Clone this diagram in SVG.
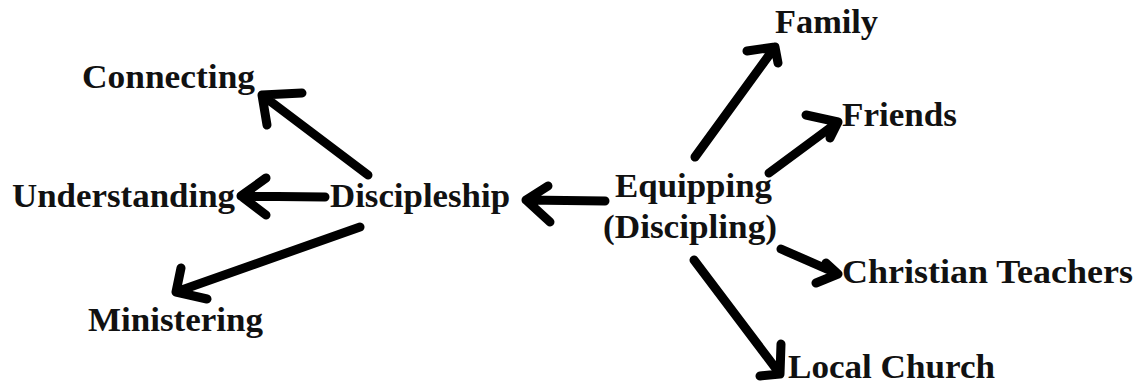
<svg xmlns="http://www.w3.org/2000/svg" width="1144" height="387" viewBox="0 0 1144 387">
<style>
text{font-family:'Liberation Serif','Times New Roman','DejaVu Serif',serif;font-weight:700;font-size:33px;fill:#111}
.a{fill:none;stroke:#000;stroke-width:9;stroke-linecap:round;stroke-linejoin:round}
</style>
<rect width="1144" height="387" fill="#fff"/>
<g id="connectors">
  <path class="a" d="M368,175 L262,95 M302,93 L262,95 L267,125"/>
  <path class="a" d="M325,197 L241,196 M266,178 L241,196 L266,215"/>
  <path class="a" d="M360,227 L176,292 M181,268 L176,292 L207,299"/>
  <path class="a" d="M605,201 L526,200 M548,186 L526,200 L550,222"/>
  <path class="a" d="M695,157 L775,47 M747,51 L775,47 L778,63"/>
  <path class="a" d="M769,173 L838,122 M806,115 L838,122 L830,138"/>
  <path class="a" d="M781,249 L838,274 M826,263 L838,274 L816,283"/>
  <path class="a" d="M694,260 L780,374 M781,344 L780,374 L760,376"/>
</g>
<g id="node-connecting"><text font-family="Liberation Serif, serif" x="82" y="88" textLength="173" lengthAdjust="spacingAndGlyphs">Connecting</text></g>
<g id="node-understanding"><text font-family="Liberation Serif, serif" x="12" y="207" textLength="223" lengthAdjust="spacingAndGlyphs">Understanding</text></g>
<g id="node-discipleship"><text font-family="Liberation Serif, serif" x="330" y="207" textLength="180" lengthAdjust="spacingAndGlyphs">Discipleship</text></g>
<g id="node-ministering"><text font-family="Liberation Serif, serif" x="88" y="331" textLength="175" lengthAdjust="spacingAndGlyphs">Ministering</text></g>
<g id="node-equipping">
  <text font-family="Liberation Serif, serif" x="615" y="197" textLength="157" lengthAdjust="spacingAndGlyphs">Equipping</text>
  <text font-family="Liberation Serif, serif" x="603" y="238" textLength="174" lengthAdjust="spacingAndGlyphs">(Discipling)</text>
</g>
<g id="node-family"><text font-family="Liberation Serif, serif" x="775" y="33" textLength="103" lengthAdjust="spacingAndGlyphs">Family</text></g>
<g id="node-friends"><text font-family="Liberation Serif, serif" x="842" y="126" textLength="115" lengthAdjust="spacingAndGlyphs">Friends</text></g>
<g id="node-christian-teachers"><text font-family="Liberation Serif, serif" x="842" y="283" textLength="291" lengthAdjust="spacingAndGlyphs">Christian Teachers</text></g>
<g id="node-local-church"><text font-family="Liberation Serif, serif" x="788" y="378" textLength="207" lengthAdjust="spacingAndGlyphs">Local Church</text></g>
</svg>
